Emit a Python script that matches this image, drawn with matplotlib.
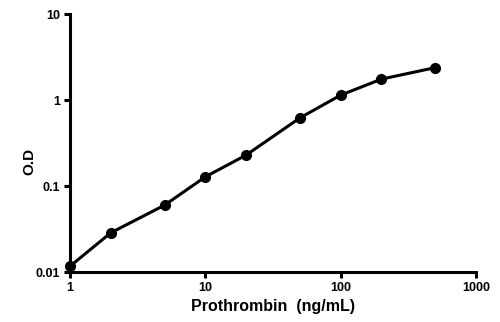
import numpy as np
import matplotlib
matplotlib.use("Agg")
import matplotlib.pyplot as plt
from matplotlib.ticker import FixedLocator, FixedFormatter, NullLocator

# standard curve values
conc = [1, 2, 5, 10, 20, 50, 100, 200, 500]
od = [0.0117, 0.0286, 0.060, 0.128, 0.229, 0.62, 1.14, 1.75, 2.38]

xticks = [1, 10, 100, 1000]
xlabels = ["1", "10", "100", "1000"]
yticks = [0.01, 0.1, 1, 10]
ylabels = ["0.01", "0.1", "1", "10"]

plt.rcParams['font.family'] = ['Liberation Sans', 'DejaVu Sans']
plt.rcParams['font.weight'] = 'bold'

fig = plt.figure(figsize=(5, 3.22), dpi=100)
ax = fig.add_axes([0.14, 0.155, 0.812, 0.8015])

ax.plot(conc, od, color='black', lw=2.2, marker='o', ms=7, clip_on=False, zorder=3)

ax.set_xscale('log')
ax.set_yscale('log')
ax.set_xlim(1, 1000)
ax.set_ylim(0.01, 10)

ax.xaxis.set_major_locator(FixedLocator(xticks))
ax.xaxis.set_major_formatter(FixedFormatter(xlabels))
ax.yaxis.set_major_locator(FixedLocator(yticks))
ax.yaxis.set_major_formatter(FixedFormatter(ylabels))
ax.xaxis.set_minor_locator(NullLocator())
ax.yaxis.set_minor_locator(NullLocator())

for s in ['top', 'right']:
    ax.spines[s].set_visible(False)
for s in ['left', 'bottom']:
    ax.spines[s].set_linewidth(2.2)

ax.tick_params(axis='both', which='major', direction='out', length=4, width=2.2,
               labelsize=9, pad=3)
for lab in ax.get_xticklabels() + ax.get_yticklabels():
    lab.set_fontweight('bold')

ax.set_xlabel('Prothrombin  (ng/mL)', fontsize=11.5, fontweight='bold', labelpad=4)
ax.set_ylabel('O.D', fontsize=11, fontweight='bold')
ax.yaxis.set_label_coords(-0.082, 0.43)

fig.savefig('out.png', dpi=100)
